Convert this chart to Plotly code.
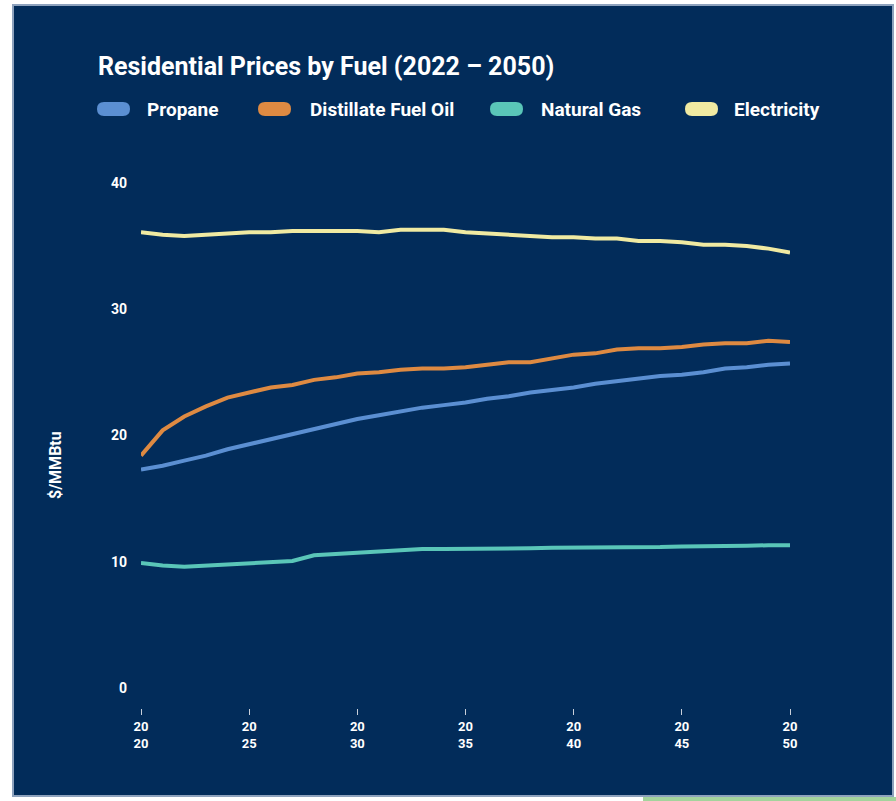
import plotly.graph_objects as go

years = list(range(2020, 2051))
propane = [17.3, 17.6, 18.0, 18.4, 18.9, 19.3, 19.7, 20.1, 20.5, 20.9, 21.3, 21.6, 21.9, 22.2, 22.4,
           22.6, 22.9, 23.1, 23.4, 23.6, 23.8, 24.1, 24.3, 24.5, 24.7, 24.8, 25.0, 25.3, 25.4, 25.6, 25.7]
distillate = [18.4, 20.4, 21.5, 22.3, 23.0, 23.4, 23.8, 24.0, 24.4, 24.6, 24.9, 25.0, 25.2, 25.3, 25.3,
              25.4, 25.6, 25.8, 25.8, 26.1, 26.4, 26.5, 26.8, 26.9, 26.9, 27.0, 27.2, 27.3, 27.3, 27.5, 27.4]
natural_gas = [9.9, 9.7, 9.6, 9.7, 9.8, 9.9, 9.95, 10.05, 10.5, 10.6, 10.7, 10.8, 10.9, 11.0, 11.0,
               11.0, 11.0, 11.05, 11.05, 11.1, 11.1, 11.1, 11.1, 11.15, 11.15, 11.2, 11.2, 11.2, 11.25, 11.3, 11.3]
electricity = [36.1, 35.9, 35.8, 35.9, 36.0, 36.1, 36.1, 36.2, 36.2, 36.2, 36.2, 36.1, 36.3, 36.3, 36.3,
               36.1, 36.0, 35.9, 35.8, 35.7, 35.7, 35.6, 35.6, 35.4, 35.4, 35.3, 35.1, 35.1, 35.0, 34.8, 34.5]

series_names = ["Propane", "Distillate Fuel Oil", "Natural Gas", "Electricity"]
series_values = [propane, distillate, natural_gas, electricity]
colors = ["#5b8fd2", "#de8a42", "#5ac6b8", "#f0eaa2"]

x_tickvals = [2020, 2025, 2030, 2035, 2040, 2045, 2050]
x_ticktext = ["20<br>20", "20<br>25", "20<br>30", "20<br>35", "20<br>40", "20<br>45", "20<br>50"]
y_tickvals = [0, 10, 20, 30, 40]

W, H = 896, 801
PL, PR, PT, PB = 141, 790, 183, 708
pw, ph = PR - PL, PB - PT


def px(x):
    return (x - PL) / pw


def py(y):
    return (PB - y) / ph


BG = "#022c5a"
FONT = "Roboto, sans-serif"

fig = go.Figure()
for name, vals, c in zip(series_names, series_values, colors):
    fig.add_trace(go.Scatter(x=years, y=vals, mode="lines", name=name,
                             line=dict(color=c, width=4, shape="linear"),
                             showlegend=False))

shapes = [
    dict(type="rect", xref="paper", yref="paper", x0=px(13), x1=px(893), y0=py(796), y1=py(5),
         fillcolor=BG, line=dict(color="#8ea2bd", width=2), layer="below"),
    dict(type="rect", xref="paper", yref="paper", x0=px(643), x1=px(896), y0=py(801), y1=py(797),
         fillcolor="#a3d39c", line=dict(width=0), layer="below"),
]

annotations = [
    dict(text="<b>Residential Prices by Fuel (2022 – 2050)</b>", xref="paper", yref="paper",
         x=px(96), y=py(66), xanchor="left", yanchor="middle", showarrow=False,
         font=dict(family=FONT, size=25, color="white")),
    dict(text="<b>$/MMBtu</b>", xref="paper", yref="paper", x=px(55), y=py(465), textangle=-90,
         xanchor="center", yanchor="middle", showarrow=False,
         font=dict(family=FONT, size=16, color="white")),
]

legend_pos = [(97, 145), (258, 308), (490, 539), (685, 732)]
for (mx, tx), name, c in zip(legend_pos, series_names, colors):
    r = 7
    pts = [("M", mx + r, 102), ("L", mx + 33 - r, 102), ("Q", mx + 33, 102, mx + 33, 109),
           ("Q", mx + 33, 116, mx + 33 - r, 116), ("L", mx + r, 116), ("Q", mx, 116, mx, 109),
           ("Q", mx, 102, mx + r, 102)]
    segs = []
    for seg in pts:
        cmd = seg[0]
        coords = seg[1:]
        pairs = []
        for i in range(0, len(coords), 2):
            pairs.append(f"{px(coords[i])},{py(coords[i + 1])}")
        segs.append(cmd + " " + " ".join(pairs))
    shapes.append(dict(type="path", xref="paper", yref="paper", path=" ".join(segs) + " Z",
                       fillcolor=c, line=dict(width=0)))
    annotations.append(dict(text="<b>" + name + "</b>", xref="paper", yref="paper", x=px(tx), y=py(109),
                            xanchor="left", yanchor="middle", showarrow=False,
                            font=dict(family=FONT, size=19, color="white")))

fig.update_layout(
    width=W, height=H,
    margin=dict(l=PL, r=W - PR, t=PT, b=H - PB),
    paper_bgcolor="white", plot_bgcolor="rgba(0,0,0,0)",
    shapes=shapes, annotations=annotations, showlegend=False,
    xaxis=dict(range=[2020, 2050], tickvals=x_tickvals, ticktext=x_ticktext,
               showgrid=False, zeroline=False, showline=False,
               ticks="outside", ticklen=6, tickwidth=1, tickcolor="#c8cfd9",
               tickfont=dict(family=FONT, size=13, color="white", weight="bold"),
               ticklabelstandoff=0, fixedrange=True),
    yaxis=dict(range=[-1.6, 40], tickvals=y_tickvals, showgrid=False, zeroline=False,
               showline=False, ticks="",
               tickfont=dict(family=FONT, size=14, color="white", weight="bold"),
               ticklabelstandoff=13, fixedrange=True),
)

fig.write_html("out.html")
